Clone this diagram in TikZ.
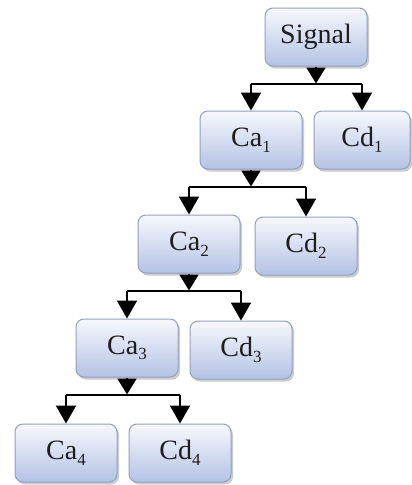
\documentclass[tikz,border=0pt]{standalone}
\usepackage{fontspec}
\setmainfont{Liberation Serif}
\usetikzlibrary{arrows.meta,shadows}
\definecolor{boxtop}{RGB}{246,248,253}
\definecolor{boxbottom}{RGB}{180,194,228}
\definecolor{boxedge}{RGB}{145,160,194}
\definecolor{ink}{RGB}{30,30,30}
\tikzset{
  box/.style={rounded corners=8pt, draw=boxedge, line width=1pt,
    top color=boxtop, bottom color=boxbottom,
    minimum width=102pt, minimum height=58pt, inner sep=0pt,
    text=ink, font=\fontsize{28}{30}\selectfont,
    drop shadow={opacity=0.4, shadow xshift=2pt, shadow yshift=-2.5pt}},
  wire/.style={line width=2pt, draw=black},
  feed/.style={wire, -{Triangle[width=19pt,length=16pt]}},
  split/.style={wire, -{Triangle[width=20pt,length=18pt]}}
}
\newcommand{\sub}[1]{\raisebox{-0.2em}{\fontsize{17}{18}\selectfont #1}}
\begin{document}
\begin{tikzpicture}[x=1pt,y=-1pt]
  \useasboundingbox (0,0) rectangle (412,485);

  % decomposition tree
  \node[box] (sig) at (316,37)  {Signal};
  \node[box] (ca1) at (251,140) {Ca\sub{1}};
  \node[box, minimum width=96pt] (cd1) at (362,140) {Cd\sub{1}};
  \node[box] (ca2) at (189,244) {Ca\sub{2}};
  \node[box] (cd2) at (306,246) {Cd\sub{2}};
  \node[box] (ca3) at (127,348) {Ca\sub{3}};
  \node[box] (cd3) at (241,350) {Cd\sub{3}};
  \node[box] (ca4) at (66,453)  {Ca\sub{4}};
  \node[box] (cd4) at (180,453) {Cd\sub{4}};

  % branching connectors: parent -> bar -> two children
  \foreach \p/\a/\d/\b in {sig/ca1/cd1/b0, ca1/ca2/cd2/b1, ca2/ca3/cd3/b2, ca3/ca4/cd4/b3}{
    \path (\p.south) ++(0,17) coordinate (\b);
    \draw[feed] (\p.south) -- (\b);
    \draw[wire] (\a |- \b) -- (\d |- \b);
    \draw[split] (\a |- \b) -- (\a.north);
    \draw[split] (\d |- \b) -- (\d.north);
  }
\end{tikzpicture}
\end{document}
